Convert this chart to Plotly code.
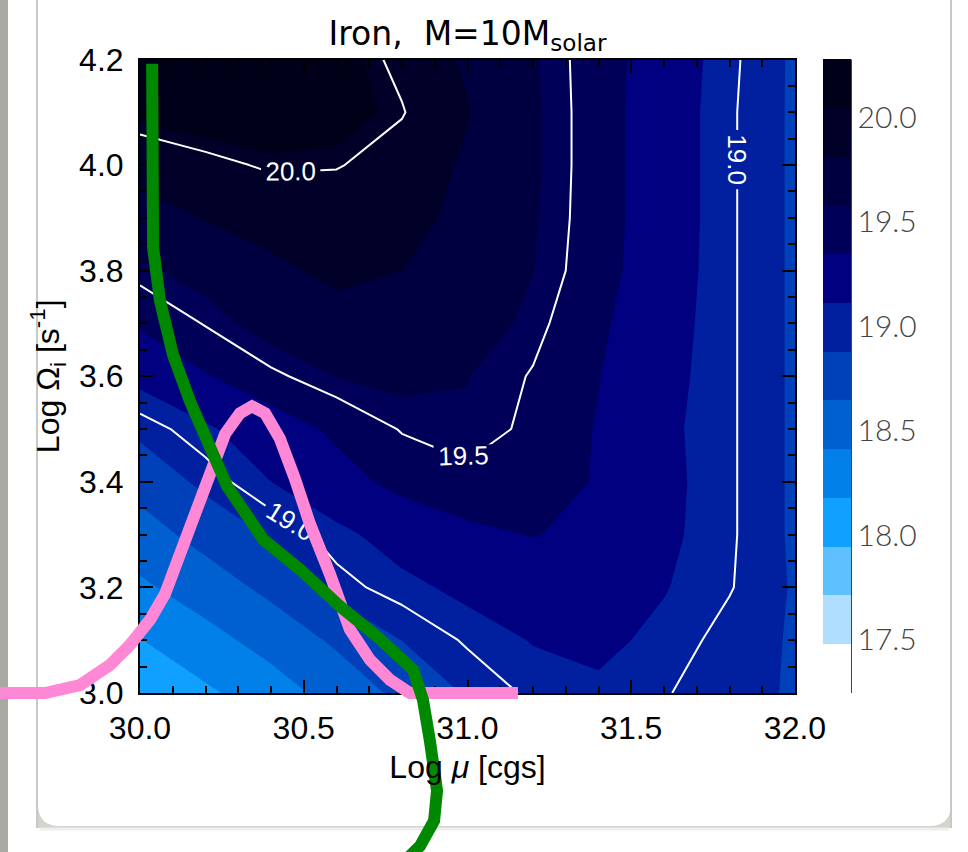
import plotly.graph_objects as go

# ---------------- data ----------------
x_vals = [30.0, 30.2, 30.4, 30.6, 30.8, 31.0, 31.2, 31.4, 31.6, 31.8, 32.0]
y_vals = [3.0, 3.1, 3.2, 3.3, 3.4, 3.5, 3.6, 3.7, 3.8, 3.9, 4.0, 4.1, 4.2]
z_vals = [
    [17.98, 18.14, 18.30, 18.50, 18.70, 18.90, 19.03, 19.08, 19.01, 18.93, 18.86],
    [18.17, 18.33, 18.50, 18.68, 18.88, 19.02, 19.12, 19.15, 19.07, 18.95, 18.86],
    [18.37, 18.53, 18.70, 18.95, 19.06, 19.16, 19.22, 19.20, 19.12, 19.01, 18.86],
    [18.55, 18.72, 18.90, 19.06, 19.20, 19.30, 19.35, 19.30, 19.15, 19.02, 18.85],
    [18.72, 18.93, 19.11, 19.27, 19.40, 19.46, 19.42, 19.33, 19.16, 19.02, 18.85],
    [18.93, 19.08, 19.24, 19.38, 19.51, 19.56, 19.47, 19.33, 19.15, 19.02, 18.85],
    [19.17, 19.33, 19.47, 19.58, 19.62, 19.58, 19.49, 19.35, 19.17, 19.02, 18.85],
    [19.37, 19.51, 19.65, 19.74, 19.74, 19.66, 19.54, 19.38, 19.19, 19.02, 18.85],
    [19.55, 19.64, 19.77, 19.85, 19.81, 19.72, 19.58, 19.42, 19.21, 19.02, 18.85],
    [19.72, 19.82, 19.88, 19.89, 19.87, 19.76, 19.59, 19.43, 19.22, 19.02, 18.85],
    [19.89, 19.96, 20.02, 20.01, 19.93, 19.78, 19.60, 19.43, 19.22, 19.02, 18.85],
    [20.08, 20.12, 20.12, 20.10, 20.01, 19.82, 19.60, 19.43, 19.22, 19.02, 18.85],
    [20.18, 20.17, 20.15, 20.10, 19.96, 19.78, 19.59, 19.43, 19.23, 19.03, 18.85],
]

# filled-contour levels: 17.246 .. 20.275 in 13 steps
level_start = 17.246
level_end = 20.275
level_step = 0.233
# one colour per band: below start, 13 bands, above end
band_colors = ["#ffffff", "#ffffff", "#b0deff", "#5ec0ff", "#10a0ff", "#0080e8", "#0060d0",
               "#0040b8", "#0020a0", "#000080", "#000058", "#000040", "#000028", "#000018",
               "#ffffff"]
line_levels = [19.0, 20.0, 0.5]  # start, end, step
cbar_ticks = [17.5, 18.0, 18.5, 19.0, 19.5, 20.0]

pink_x = [29.573, 29.710, 29.817, 29.908, 29.969, 30.031, 30.076, 30.122, 30.168, 30.214,
          30.260, 30.305, 30.342, 30.382, 30.427, 30.473, 30.519, 30.580, 30.641, 30.702,
          30.763, 30.824, 31.154]
pink_y = [3.0, 3.0, 3.015, 3.053, 3.091, 3.139, 3.187, 3.263, 3.349, 3.425,
          3.491, 3.530, 3.543, 3.530, 3.482, 3.406, 3.320, 3.225, 3.120, 3.063,
          3.025, 3.0, 3.0]

green_x = [30.037, 30.037, 30.040, 30.061, 30.101, 30.153, 30.223, 30.266, 30.376, 30.489,
           30.611, 30.724, 30.834, 30.864, 30.885, 30.907, 30.898, 30.855, 30.809]
green_y = [4.192, 3.907, 3.844, 3.743, 3.640, 3.552, 3.444, 3.392, 3.291, 3.234,
           3.164, 3.107, 3.044, 2.987, 2.910, 2.815, 2.758, 2.710, 2.682]

# ---------------- layout geometry ----------------
W, H = 968, 852
x_range = [30.0, 32.0]
y_range = [3.0, 4.2]
x_dom = [140 / W, 795 / W]
y_dom = [(H - 693) / H, (H - 59.5) / H]

# full-figure overlay axes using the same data scale
sx = (x_range[1] - x_range[0]) / (x_dom[1] - x_dom[0])
sy = (y_range[1] - y_range[0]) / (y_dom[1] - y_dom[0])
x2_range = [x_range[0] - x_dom[0] * sx, x_range[0] + (1 - x_dom[0]) * sx]
y2_range = [y_range[0] - y_dom[0] * sy, y_range[0] + (1 - y_dom[0]) * sy]

n = len(band_colors)
colorscale = [[i / (n - 1), c] for i, c in enumerate(band_colors)]

def px(xp):
    return xp / W

def py(yp):
    return 1 - yp / H

# colour bar geometry: bar top edge (value level_end) at 59.5 px, 209.2 px per unit
cb_top_px, cb_scale = 59.5, 209.2
cb_lo = level_start - level_step / 2
cb_hi = level_end + level_step / 2
cb_len_px = (cb_hi - cb_lo) * cb_scale
cb_top_full = cb_top_px - (cb_hi - level_end) * cb_scale
cb_center_px = cb_top_full + cb_len_px / 2

fig = go.Figure()

fig.add_trace(go.Contour(
    x=x_vals, y=y_vals, z=z_vals,
    autocontour=False,
    contours=dict(coloring="fill", start=level_start, end=level_end, size=level_step,
                  showlines=False),
    line=dict(width=0, smoothing=0),
    colorscale=colorscale,
    hoverinfo="skip",
    colorbar=dict(
        x=px(823), xanchor="left", xpad=0, ypad=0,
        y=py(cb_center_px), yanchor="middle",
        len=cb_len_px / H, lenmode="fraction",
        thickness=28, thicknessmode="pixels",
        outlinewidth=0, ticks="",
        tickvals=cbar_ticks, tickformat=".1f",
        tickfont=dict(family="Lato", size=30, color="#444444", weight=300),
    ),
))

fig.add_trace(go.Contour(
    x=x_vals, y=y_vals, z=z_vals,
    autocontour=False,
    contours=dict(coloring="none", start=line_levels[0], end=line_levels[1],
                  size=line_levels[2], showlabels=True,
                  labelfont=dict(family="Liberation Sans", size=26, color="white"),
                  labelformat=".1f"),
    line=dict(color="white", width=2, smoothing=0),
    showscale=False, hoverinfo="skip",
))

fig.add_trace(go.Scatter(x=pink_x, y=pink_y, xaxis="x2", yaxis="y2", mode="lines",
                         line=dict(color="#ff88d6", width=12), hoverinfo="skip",
                         showlegend=False))
fig.add_trace(go.Scatter(x=green_x, y=green_y, xaxis="x2", yaxis="y2", mode="lines",
                         line=dict(color="#008800", width=12), hoverinfo="skip",
                         showlegend=False))

tick_font = dict(family="Liberation Sans", size=32, color="black")

fig.update_layout(
    width=W, height=H,
    margin=dict(l=0, r=0, t=0, b=0, autoexpand=False),
    paper_bgcolor="white", plot_bgcolor="rgba(0,0,0,0)",
    showlegend=False,
    title=dict(text="Iron,  M=10M<sub>solar</sub>", x=467.5 / W, xanchor="center",
               y=py(33), yanchor="middle", automargin=False,
               font=dict(family="DejaVu Sans", size=33, color="black")),
    xaxis=dict(domain=x_dom, range=x_range, showline=True, linecolor="black", linewidth=2,
               mirror="ticks", ticks="inside", ticklen=13, tickwidth=1.5, tickcolor="black",
               tick0=30, dtick=0.5, tickformat=".1f", showgrid=False, zeroline=False,
               automargin=False,
               minor=dict(ticks="inside", ticklen=7, dtick=0.1, tick0=30, tickcolor="black",
                          tickwidth=1.5, showgrid=False),
               tickfont=tick_font, ticklabelstandoff=6,
               title=dict(text="Log <i>μ</i> [cgs]", font=tick_font, standoff=10)),
    yaxis=dict(domain=y_dom, range=y_range, showline=True, linecolor="black", linewidth=2,
               mirror="ticks", ticks="inside", ticklen=13, tickwidth=1.5, tickcolor="black",
               tick0=3.0, dtick=0.2, tickformat=".1f", showgrid=False, zeroline=False,
               automargin=False,
               minor=dict(ticks="inside", ticklen=7, dtick=0.05, tick0=3.0, tickcolor="black",
                          tickwidth=1.5, showgrid=False),
               tickfont=tick_font, ticklabelstandoff=8,
               title=dict(text="Log Ω<sub>i</sub> [s<sup>-1</sup>]", font=tick_font, standoff=10)),
    xaxis2=dict(domain=[0, 1], range=x2_range, anchor="y2", visible=False, automargin=False),
    yaxis2=dict(domain=[0, 1], range=y2_range, anchor="x2", visible=False, automargin=False),
)

# page / card decoration
r = 22
card_path = (f"M {px(38)},{py(0)} L {px(951)},{py(0)} L {px(951)},{py(826 - r)} "
             f"Q {px(951)},{py(826)} {px(951 - r)},{py(826)} L {px(38 + r)},{py(826)} "
             f"Q {px(38)},{py(826)} {px(38)},{py(826 - r)} Z")
shapes = [
    dict(type="rect", xref="paper", yref="paper", x0=0, x1=px(8), y0=0, y1=1,
         fillcolor="#a9a9a1", line=dict(width=0), layer="below"),
    dict(type="rect", xref="paper", yref="paper", x0=px(38), x1=px(951), y0=py(828), y1=py(795),
         fillcolor="#d4d4cc", line=dict(width=0), layer="below"),
    dict(type="path", xref="paper", yref="paper", path=card_path,
         fillcolor="white", line=dict(width=0), layer="below"),
    dict(type="line", xref="paper", yref="paper", x0=px(37), x1=px(37), y0=py(0), y1=py(828),
         line=dict(color="#c8c8c8", width=2), layer="below"),
    dict(type="line", xref="paper", yref="paper", x0=px(951), x1=px(951), y0=py(0), y1=py(828),
         line=dict(color="#c8c8c8", width=2), layer="below"),
    dict(type="line", xref="paper", yref="paper", x0=px(40), x1=px(949), y0=py(829), y1=py(829),
         line=dict(color="#eeeeee", width=3), layer="below"),
    dict(type="line", xref="paper", yref="paper", x0=px(851), x1=px(851), y0=py(59.5), y1=py(693),
         line=dict(color="#444444", width=2)),
]
fig.update_layout(shapes=shapes)

fig.write_html("out.html")
